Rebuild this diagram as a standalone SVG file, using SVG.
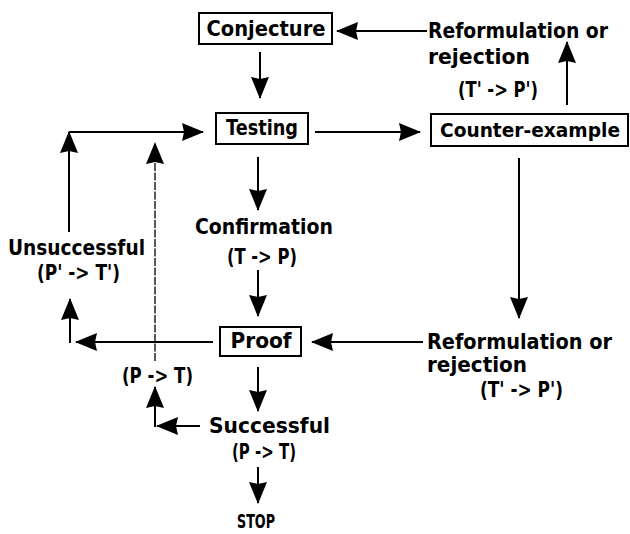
<svg xmlns="http://www.w3.org/2000/svg" width="630" height="534" viewBox="0 0 630 534">
<style>
.t{font-family:"DejaVu Sans","Liberation Sans",sans-serif;font-weight:bold;font-size:21px;fill:#000}
.box{fill:#fff;stroke:#000;stroke-width:2}
.c{stroke:#000;stroke-width:2;fill:none;marker-end:url(#ah)}
.thin{stroke:#000;stroke-width:1.3;fill:none;stroke-dasharray:8 1.5;marker-end:url(#ah)}
</style>
<defs>
<marker id="ah" markerUnits="userSpaceOnUse" markerWidth="22" markerHeight="18" viewBox="0 0 22 18" refX="21" refY="9" orient="auto">
<path d="M0,0 L22,9 L0,18 L2,9 Z" fill="#000"/>
</marker>
</defs>
<rect width="630" height="534" fill="#fff"/>
<g id="connectors">
<line class="c" x1="427" y1="31" x2="337" y2="31"/>
<line class="c" x1="260" y1="52" x2="260" y2="98"/>
<line class="c" x1="567" y1="105" x2="567" y2="42"/>
<line class="c" x1="315" y1="132" x2="420" y2="132"/>
<line class="c" x1="519" y1="158" x2="519" y2="318"/>
<line class="c" x1="423" y1="342" x2="312" y2="342"/>
<line class="c" x1="258" y1="157" x2="258" y2="210"/>
<line class="c" x1="258" y1="270" x2="258" y2="316"/>
<line class="c" x1="213" y1="342" x2="76" y2="342"/>
<line class="c" x1="70" y1="343" x2="70" y2="299"/>
<line class="c" x1="69" y1="232" x2="69" y2="132"/>
<line class="c" x1="69" y1="132" x2="203" y2="132"/>
<line class="c" x1="258" y1="367" x2="258" y2="411"/>
<line class="c" x1="200" y1="426" x2="157" y2="426"/>
<line class="c" x1="155" y1="427" x2="155" y2="387"/>
<line class="thin" x1="155" y1="361" x2="155" y2="143"/>
<line class="c" x1="258" y1="467" x2="258" y2="503"/>
</g>
<g id="conjecture">
<rect class="box" x="199" y="13" width="133" height="31"/>
<text class="t" x="266" y="36" text-anchor="middle" textLength="119" lengthAdjust="spacingAndGlyphs">Conjecture</text>
</g>
<g id="reformulation-top">
<text class="t" x="428" y="38" textLength="180" lengthAdjust="spacingAndGlyphs">Reformulation or</text>
<text class="t" x="428" y="64" textLength="102" lengthAdjust="spacingAndGlyphs">rejection</text>
<text class="t" x="458" y="97" textLength="80" lengthAdjust="spacingAndGlyphs">(T' -&gt; P')</text>
</g>
<g id="testing">
<rect class="box" x="216" y="113" width="92" height="31"/>
<text class="t" x="262" y="135" text-anchor="middle" textLength="72" lengthAdjust="spacingAndGlyphs">Testing</text>
</g>
<g id="counter-example">
<rect class="box" x="431" y="114" width="197" height="32"/>
<text class="t" x="530" y="137" text-anchor="middle" style="font-size:19px" textLength="180" lengthAdjust="spacingAndGlyphs">Counter-example</text>
</g>
<g id="confirmation">
<text class="t" x="195" y="234" textLength="138" lengthAdjust="spacingAndGlyphs">Confirmation</text>
<text class="t" x="227" y="264" textLength="70" lengthAdjust="spacingAndGlyphs">(T -&gt; P)</text>
</g>
<g id="unsuccessful">
<text class="t" x="8" y="255" textLength="137" lengthAdjust="spacingAndGlyphs">Unsuccessful</text>
<text class="t" x="37" y="280" textLength="83" lengthAdjust="spacingAndGlyphs">(P' -&gt; T')</text>
</g>
<g id="proof">
<rect class="box" x="220" y="327" width="81" height="29"/>
<text class="t" x="261" y="348" text-anchor="middle" textLength="61" lengthAdjust="spacingAndGlyphs">Proof</text>
</g>
<g id="reformulation-bottom">
<text class="t" x="427" y="349" textLength="185" lengthAdjust="spacingAndGlyphs">Reformulation or</text>
<text class="t" x="427" y="372" textLength="100" lengthAdjust="spacingAndGlyphs">rejection</text>
<text class="t" x="480" y="397" textLength="83" lengthAdjust="spacingAndGlyphs">(T' -&gt; P')</text>
</g>
<g id="p-to-t-left">
<text class="t" x="122" y="383" textLength="71" lengthAdjust="spacingAndGlyphs">(P -&gt; T)</text>
</g>
<g id="successful">
<text class="t" x="209" y="433" textLength="121" lengthAdjust="spacingAndGlyphs">Successful</text>
<text class="t" x="232" y="459" textLength="64" lengthAdjust="spacingAndGlyphs">(P -&gt; T)</text>
</g>
<g id="stop">
<text class="t" x="256" y="528" text-anchor="middle" style="font-size:19px" textLength="38" lengthAdjust="spacingAndGlyphs">STOP</text>
</g>
</svg>
